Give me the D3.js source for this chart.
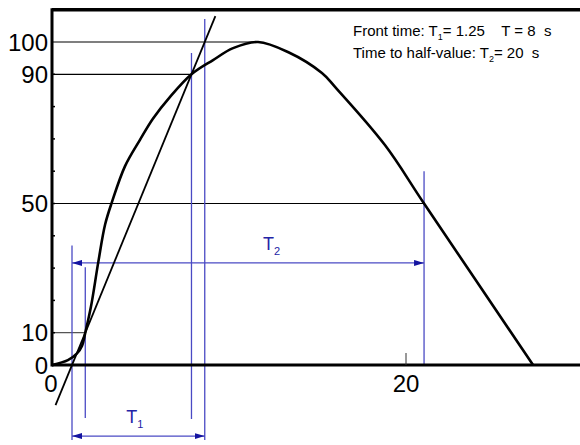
<!DOCTYPE html>
<html>
<head>
<meta charset="utf-8">
<script src="https://cdn.jsdelivr.net/npm/d3@7"></script>
<style>
  body { margin: 0; background: #fff; }
  svg { display: block; font-family: "Liberation Sans", Arial, sans-serif; }
</style>
</head>
<body>
<svg id="chart" width="580" height="445"></svg>
<script>
// Forma de onda (tiempo en s, valor en %)
const waveT = [0, 0.9, 1.4, 1.7, 1.88, 2.2, 2.62, 3.0, 3.39, 4.12, 4.97, 5.71, 6.67, 7.88, 9.10, 10.23, 11.64, 13.33, 15.25, 15.99, 18.81, 21.02, 27.18];
const waveV = [0, 1.5, 3.5, 6, 10, 18, 32, 43.5, 50.5, 61.5, 69.7, 76.3, 83, 90, 94.4, 98.1, 100, 96.9, 90.4, 86.1, 68.1, 50, 0];

// Puntos característicos
const t10 = 1.88, t90 = 7.88, tPeak = 11.64, t50 = 21.02;
const refLevels = [10, 50, 90, 100];
const refEnds = [t10, t50, t90, tPeak];

// Etiquetas de ejes
const yTickLabels = [0, 10, 50, 90, 100];
const yMinorTicks = [10, 20, 30, 40, 50, 60, 70, 80, 90];
const xTickLabels = [0, 20];

const infoLines = [
  ["Front time: T", "1", "= 1.25    T = 8  s"],
  ["Time to half-value: T", "2", "= 20  s"]
];

const svg = d3.select("#chart");
const W = 580;

const x = d3.scaleLinear().domain([0, 20]).range([52, 406]);
const y = d3.scaleLinear().domain([0, 100]).range([365, 42]);
const yTop = 110;

// tangente por 10% y 90%
const slope = (t90 - t10) / 80;
const tAt = v => t10 + (v - 10) * slope;
const t0 = tAt(0), t100 = tAt(100);

const blue = "#4a4ac4";
const darkBlue = "#1414a0";

// flechas
const defs = svg.append("defs");
["end", "start"].forEach(k => {
  defs.append("marker")
    .attr("id", "arr-" + k)
    .attr("viewBox", "0 -3 10 6")
    .attr("refX", 10).attr("refY", 0)
    .attr("markerWidth", 10).attr("markerHeight", 6)
    .attr("markerUnits", "userSpaceOnUse")
    .attr("orient", k === "end" ? "auto" : "auto-start-reverse")
    .append("path").attr("d", "M0,-3L10,0L0,3Z").attr("fill", darkBlue);
});

// líneas horizontales de referencia
svg.selectAll(".ref").data(refLevels).join("line")
  .attr("x1", x(0)).attr("x2", (d, i) => x(refEnds[i]))
  .attr("y1", d => y(d)).attr("y2", d => y(d))
  .attr("stroke", (d) => d === 10 ? "#555" : "#000").attr("stroke-width", 1.2);

// verticales azules
const vLines = [
  { t: t0, v1: 37, v2: -23.2 },
  { t: t10, v1: 30.3, v2: -16.4 },
  { t: t90, v1: 96.6, v2: -16.7 },
  { t: t100, v1: 107.1, v2: -23.2 },
  { t: t50, v1: 60, v2: 0 }
];
svg.selectAll(".vl").data(vLines).join("line")
  .attr("x1", d => x(d.t)).attr("x2", d => x(d.t))
  .attr("y1", d => y(d.v1)).attr("y2", d => y(d.v2))
  .attr("stroke", blue).attr("stroke-width", 1.3);

// flechas T1 y T2
const arrows = [
  { a: t0, b: t50, v: 31.6, label: "T", sub: "2", lt: 12.4, lv: 35.5 },
  { a: t0, b: t100, v: -22, label: "T", sub: "1", lt: 4.68, lv: -18 }
];
svg.selectAll(".arr").data(arrows).join("line")
  .attr("x1", d => x(d.a)).attr("x2", d => x(d.b))
  .attr("y1", d => y(d.v)).attr("y2", d => y(d.v))
  .attr("stroke", blue).attr("stroke-width", 1.3)
  .attr("marker-start", "url(#arr-start)")
  .attr("marker-end", "url(#arr-end)");

const lab = svg.selectAll(".lab").data(arrows).join("text")
  .attr("x", d => x(d.lt)).attr("y", d => y(d.lv))
  .attr("text-anchor", "middle")
  .attr("fill", "#2323a6").attr("font-size", 18);
lab.append("tspan").text(d => d.label);
lab.append("tspan").attr("font-size", 11).attr("dy", 5).text(d => d.sub);

// tangente
const tanV = [-12.4, 108];
svg.append("line")
  .attr("x1", x(tAt(tanV[0]))).attr("y1", y(tanV[0]))
  .attr("x2", x(tAt(tanV[1]))).attr("y2", y(tanV[1]))
  .attr("stroke", "#000").attr("stroke-width", 1.8);

// curva
const line = d3.line()
  .x((d, i) => x(waveT[i]))
  .y(d => y(d))
  .curve(d3.curveCatmullRom.alpha(0.5));
svg.append("path").datum(waveV)
  .attr("d", line)
  .attr("fill", "none").attr("stroke", "#000").attr("stroke-width", 2.6)
  .attr("stroke-linejoin", "round");

// ejes
svg.append("line").attr("x1", x(0)).attr("x2", W).attr("y1", y(0)).attr("y2", y(0))
  .attr("stroke", "#000").attr("stroke-width", 3);
svg.append("line").attr("x1", x(0)).attr("x2", W).attr("y1", y(yTop)).attr("y2", y(yTop))
  .attr("stroke", "#000").attr("stroke-width", 3.5);
svg.append("line").attr("x1", x(0)).attr("x2", x(0)).attr("y1", y(yTop) - 1.5).attr("y2", y(0) + 1.5)
  .attr("stroke", "#000").attr("stroke-width", 3);

svg.selectAll(".ymt").data(yMinorTicks).join("line")
  .attr("x1", x(0)).attr("x2", x(0) + 3)
  .attr("y1", d => y(d)).attr("y2", d => y(d))
  .attr("stroke", "#000").attr("stroke-width", 1.5);

svg.selectAll(".yl").data(yTickLabels).join("text")
  .attr("x", x(0) - 4).attr("y", d => y(d) + 8.5)
  .attr("text-anchor", "end").attr("font-size", 24).text(d => d);

svg.selectAll(".xt").data(xTickLabels.filter(d => d > 0)).join("line")
  .attr("x1", d => x(d)).attr("x2", d => x(d))
  .attr("y1", y(0)).attr("y2", y(0) - 12)
  .attr("stroke", "#333").attr("stroke-width", 1);

svg.selectAll(".xl").data(xTickLabels).join("text")
  .attr("x", d => x(d) - (d === 0 ? 1 : 0)).attr("y", y(0) + 27)
  .attr("text-anchor", "middle").attr("font-size", 24).text(d => d);

// texto informativo
const info = svg.selectAll(".info").data(infoLines).join("text")
  .attr("x", 353).attr("y", (d, i) => 36 + i * 22)
  .attr("font-size", 15).style("white-space", "pre");
info.append("tspan").text(d => d[0]);
info.append("tspan").attr("font-size", 9).attr("dy", 4).text(d => d[1]);
info.append("tspan").attr("dy", -4).text(d => d[2]);
</script>
</body>
</html>
